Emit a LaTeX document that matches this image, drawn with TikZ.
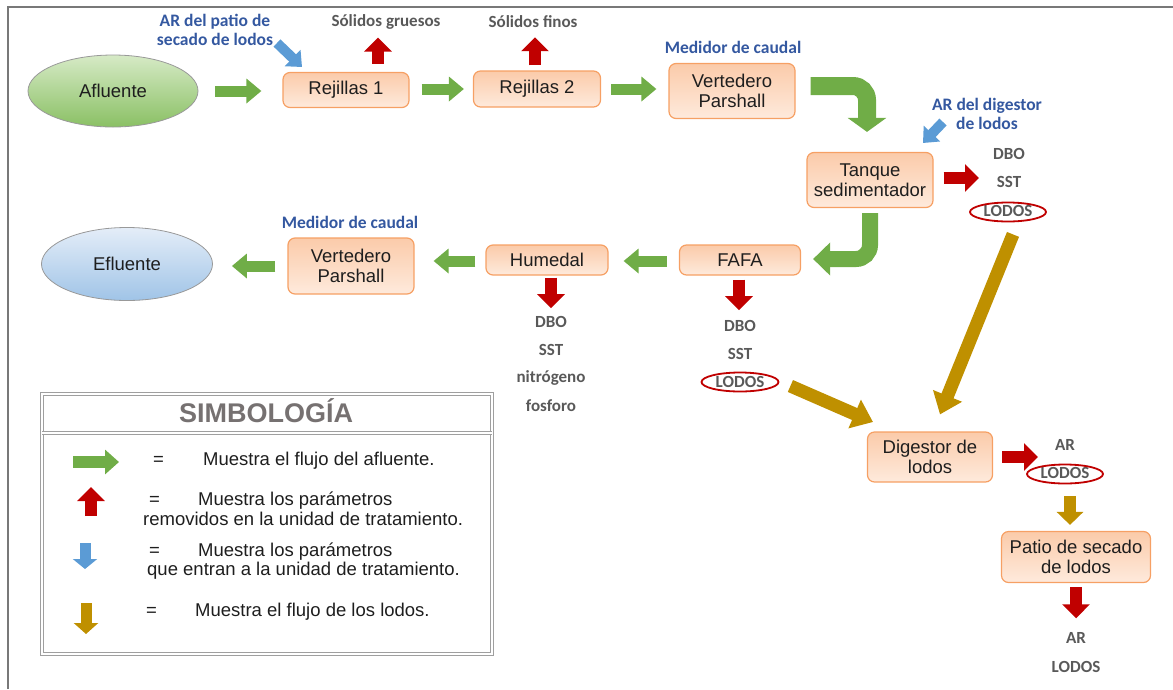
\documentclass[tikz,border=0pt]{standalone}
\usepackage{fontspec}
\setmainfont{Liberation Sans}
\newfontfamily\calfont{Carlito}
\usetikzlibrary{arrows.meta,shapes.geometric,calc}
\definecolor{agreen}{RGB}{112,173,71}
\definecolor{ared}{RGB}{192,0,0}
\definecolor{ablue}{RGB}{91,155,213}
\definecolor{agold}{RGB}{191,144,0}
\definecolor{boxborder}{RGB}{246,160,100}
\definecolor{boxtop}{RGB}{251,203,170}
\definecolor{boxbot}{RGB}{254,234,220}
\definecolor{boxtext}{RGB}{30,30,30}
\definecolor{labgray}{RGB}{89,89,89}
\definecolor{labblue}{RGB}{52,88,160}
\definecolor{gtop}{RGB}{214,234,198}
\definecolor{gbot}{RGB}{138,192,100}
\definecolor{btop}{RGB}{228,237,248}
\definecolor{bbot}{RGB}{160,196,231}
\definecolor{titlegray}{RGB}{118,113,113}
\definecolor{framegray}{RGB}{120,120,120}
\begin{document}
\begin{tikzpicture}[x=1pt,y=-1pt,
  box/.style={draw=boxborder, line width=1.2pt, rounded corners=7pt,
    top color=boxtop, bottom color=boxbot, text=boxtext,
    font=\fontsize{18.5}{20.5}\selectfont, align=center, inner sep=0pt},
  ell/.style={ellipse, draw=gray!80, line width=0.8pt, text=boxtext,
    font=\fontsize{18.5}{20.5}\selectfont, inner sep=0pt},
  glab/.style={text=labgray, font=\calfont\bfseries\fontsize{17}{19}\selectfont, inner sep=0pt},
  blab/.style={text=labblue, font=\calfont\bfseries\fontsize{17.5}{19.5}\selectfont, align=center, inner sep=0pt},
  legtxt/.style={text=boxtext, font=\fontsize{18.5}{20}\selectfont, inner sep=0pt, anchor=west},
  lodring/.style={draw=ared, line width=1.8pt, ellipse, minimum width=76pt, minimum height=19pt, inner sep=0pt},
  garrow/.style={draw=agreen, line width=11pt, -{Triangle[length=15pt,width=24pt]}},
  garrowbig/.style={draw=agreen, line width=18pt, -{Triangle[length=14pt,width=38pt]}},
  garrowbigb/.style={draw=agreen, line width=16pt, -{Triangle[length=17pt,width=32pt]}},
  rarrow/.style={draw=ared, line width=12pt, -{Triangle[length=14pt,width=27pt]}},
  barrow/.style={draw=ablue, line width=10pt, -{Triangle[length=13pt,width=22pt]}},
  oarrow/.style={draw=agold, line width=12pt, -{Triangle[length=13pt,width=26pt]}},
  oarrowbig/.style={draw=agold, line width=13pt, -{Triangle[length=20pt,width=30pt]}},
  legline/.style={draw=gray!75, double=white, double distance=1.6pt, line width=0.9pt}
]
\useasboundingbox (0,0) rectangle (1173,689);
% page frame
\draw[framegray, line width=1.4pt] (8,689) -- (8,7) -- (1173,7);

% main nodes
\node[ell, top color=gtop, bottom color=gbot, minimum width=170pt, minimum height=72pt] (afl) at (113,91) {Afluente};
\node[box, minimum width=126pt, minimum height=35pt] (rej1) at (346,90) {Rejillas 1};
\node[box, minimum width=127pt, minimum height=36pt] (rej2) at (537,89) {Rejillas 2};
\node[box, minimum width=126pt, minimum height=55pt] (ver1) at (732,91) {Vertedero\\Parshall};
\node[box, minimum width=126pt, minimum height=55pt] (tan) at (870,180) {Tanque\\sedimentador};
\node[box, minimum width=121pt, minimum height=30pt] (fafa) at (740,260) {FAFA};
\node[box, minimum width=122pt, minimum height=30pt] (hum) at (547,260) {Humedal};
\node[box, minimum width=126pt, minimum height=56pt] (ver2) at (351,266) {Vertedero\\Parshall};
\node[ell, top color=btop, bottom color=bbot, minimum width=171pt, minimum height=73pt] (efl) at (127,264) {Efluente};
\node[box, minimum width=125pt, minimum height=50pt] (dig) at (930,457) {Digestor de\\lodos};
\node[box, minimum width=149pt, minimum height=51pt] (pat) at (1076,557) {Patio de secado\\de lodos};

% labels
\node[blab] (arpat) at (215,30) {AR del patio de\\secado de lodos};
\node[glab] (sg) at (386,22) {Sólidos gruesos};
\node[glab] (sf) at (533,22) {Sólidos finos};
\node[blab] (med1) at (733,47) {Medidor de caudal};
\node[blab] (med2) at (350,222) {Medidor de caudal};
\node[blab] (ardig) at (987,114) {AR del digestor\\de lodos};
\node[glab] (t1) at (1009,154) {DBO};
\node[glab] (t2) at (1009,182) {SST};
\node[glab] (t3) at (1008,211) {LODOS};
\node[lodring] (t3r) at (1008,212) {};
\node[glab] (f1) at (740,326) {DBO};
\node[glab] (f2) at (740,354) {SST};
\node[glab] (f3) at (740,382) {LODOS};
\node[lodring, minimum width=77pt] (f3r) at (740,382) {};
\node[glab] (h1) at (551,322) {DBO};
\node[glab] (h2) at (551,350) {SST};
\node[glab] (h3) at (551,378) {nitrógeno};
\node[glab] (h4) at (551,406) {fosforo};
\node[glab] (d1) at (1065,445) {AR};
\node[glab] (d2) at (1065,473) {LODOS};
\node[lodring] (d2r) at (1065,474) {};
\node[glab] (p1) at (1076,638) {AR};
\node[glab] (p2) at (1076,667) {LODOS};

% green flow arrows
\draw[garrow] ($(afl.east)+(17,0)$) -- ($(rej1.west)+(-21,1)$);
\draw[garrow] ($(rej1.east)+(12,-1)$) -- ($(rej2.west)+(-9,0)$);
\draw[garrow] ($(rej2.east)+(10,0)$) -- ($(ver1.west)+(-12,-2)$);
\draw[garrowbig, rounded corners=14pt] ($(ver1.east)+(15,-5)$) -- (867,86) -- ($(tan.north)+(-3,-20)$);
\draw[garrowbigb, rounded corners=14pt] ($(tan.south)+(0,5)$) -- (870,259) -- ($(fafa.east)+(12,-1)$);
\draw[garrow] ($(fafa.west)+(-12,1)$) -- ($(hum.east)+(15,1)$);
\draw[garrow] ($(hum.west)+(-10,1)$) -- ($(ver2.east)+(19,-5)$);
\draw[garrow] ($(ver2.west)+(-12,0)$) -- ($(efl.east)+(19,2)$);

% red removal arrows
\draw[rarrow] ($(rej1.north)+(32,-8)$) -- ($(sg.south)+(-8,8)$);
\draw[rarrow] ($(rej2.north)+(-2,-5)$) -- ($(sf.south)+(2,9)$);
\draw[rarrow] ($(tan.east)+(10,-2)$) -- (979,178);
\draw[rarrow] ($(fafa.south)+(-1,4)$) -- ($(f1.north)+(-1,-10)$);
\draw[rarrow] ($(hum.south)+(4,2)$) -- ($(h1.north)+(0,-8)$);
\draw[rarrow] ($(dig.east)+(9,0)$) -- (1038,457);
\draw[rarrow] ($(pat.south)+(0,4)$) -- ($(p1.north)+(0,-14)$);

% blue input arrows
\draw[barrow] (277,43) -- (302,67);
\draw[barrow] (943,122) -- (923,143);

% gold sludge arrows
\draw[oarrowbig] ($(t3r.south)+(5,12)$) -- ($(dig.north)+(10,-17)$);
\draw[oarrowbig] ($(f3r.east)+(11,4)$) -- (873,422);
\draw[oarrow] ($(d2r.south)+(5,12)$) -- ($(pat.north)+(-6,-6)$);

% legend
\draw[legline] (42,394) rectangle (492,654);
\draw[legline] (42,433) -- (492,433);
\node[text=titlegray, font=\bfseries\fontsize{27}{29}\selectfont, inner sep=0pt] (ltitle) at (266,411) {SIMBOLOGÍA};

\coordinate (lg1a) at (73,462); \coordinate (lg1b) at (119,462);
\draw[garrow, line width=12pt, -{Triangle[length=14pt,width=24pt]}] (lg1a) -- (lg1b);
\node[legtxt] (e1) at (153,461) {=};
\node[legtxt] (m1) at (203,461) {Muestra el flujo del afluente.};

\coordinate (lg2a) at (91,516); \coordinate (lg2b) at (91,487);
\draw[rarrow] (lg2a) -- (lg2b);
\node[legtxt] (e2) at (149,501) {=};
\node[legtxt] (m2) at (198,501) {Muestra los parámetros};
\node[legtxt] (m2b) at (143,519) {removidos en la unidad de tratamiento.};

\coordinate (lg3a) at (85,543); \coordinate (lg3b) at (85,569);
\draw[barrow, line width=11pt, -{Triangle[length=10pt,width=24pt]}] (lg3a) -- (lg3b);
\node[legtxt] (e3) at (149,552) {=};
\node[legtxt] (m3) at (198,552) {Muestra los parámetros};
\node[legtxt] (m3b) at (147,571) {que entran a la unidad de tratamiento.};

\coordinate (lg4a) at (86,603); \coordinate (lg4b) at (86,634);
\draw[oarrow, line width=11pt, -{Triangle[length=11pt,width=24pt]}] (lg4a) -- (lg4b);
\node[legtxt] (e4) at (146,612) {=};
\node[legtxt] (m4) at (195,612) {Muestra el flujo de los lodos.};
\end{tikzpicture}
\end{document}
